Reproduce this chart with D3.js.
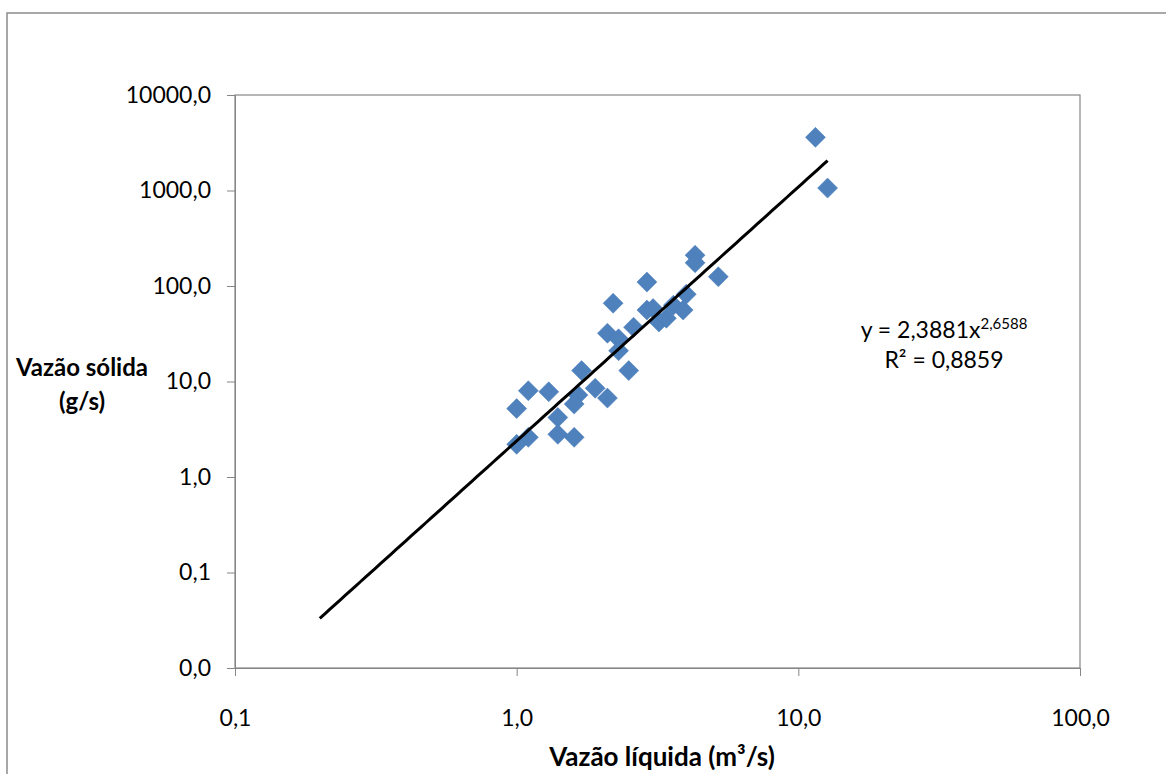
<!DOCTYPE html>
<html lang="pt">
<head>
  <meta charset="UTF-8" />
  <title>Vazão sólida x Vazão líquida</title>
  <script src="https://d3js.org/d3.v7.min.js"></script>
  <style>
    body { margin: 0; background: #fff; }
    svg { font-family: Lato, 'Open Sans', sans-serif; }
    .tick-label { font-size: 23px; fill: #000; }
    .axis-title { font-weight: bold; fill: #000; }
    .eq { font-size: 23px; fill: #000; }
  </style>
</head>
<body>
  <svg id="chart" width="1166" height="774"></svg>

  <script>
    // vazão líquida (m³/s)
    const qLiquida = [11.5, 12.7, 4.3, 4.3, 5.2, 2.9, 4.0, 2.2, 2.9, 3.05, 3.2, 3.4, 3.6, 3.9,
                      2.6, 2.1, 2.3, 2.3, 2.5, 1.7, 1.9, 2.1, 1.65, 1.6, 1.3, 1.1, 1.0, 1.4,
                      1.4, 1.6, 1.1, 1.0];
    // vazão sólida (g/s)
    const qSolida = [3600, 1060, 210, 175, 125, 110, 82, 66, 56, 58, 42, 46, 63, 56,
                     37, 32, 28, 21, 13, 13, 8.5, 6.7, 7.2, 5.8, 7.8, 8.0, 5.2, 4.2,
                     2.8, 2.6, 2.6, 2.2];

    // power trendline y = a x^b
    const trendA = 2.3881, trendB = 2.6588;
    const trendRange = [0.2, 12.7];
    const eqText = "y = 2,3881x", eqExp = "2,6588", r2Text = "R² = 0,8859";

    const xTicks = [0.1, 1, 10, 100];
    const yTicks = [0.01, 0.1, 1, 10, 100, 1000, 10000];

    const svg = d3.select("#chart");
    const plot = { left: 235, right: 1080, top: 95, bottom: 668 };

    const x = d3.scaleLog().domain([0.1, 100]).range([plot.left, plot.right]);
    const y = d3.scaleLog().domain([0.01, 10000]).range([plot.bottom, plot.top]);
    const fmt = v => v.toFixed(1).replace(".", ",");

    // outer chart frame
    svg.append("rect")
      .attr("x", 7).attr("y", 13)
      .attr("width", 1170).attr("height", 780)
      .attr("fill", "none").attr("stroke", "#8c8c8c").attr("stroke-width", 1.5);

    // plot area border
    svg.append("rect")
      .attr("x", plot.left).attr("y", plot.top)
      .attr("width", plot.right - plot.left).attr("height", plot.bottom - plot.top)
      .attr("fill", "none").attr("stroke", "#868686").attr("stroke-width", 1.2);

    // y axis
    const yAxis = svg.append("g")
      .attr("transform", `translate(${plot.left},0)`)
      .call(d3.axisLeft(y).tickValues(yTicks).tickFormat(fmt).tickSize(8).tickPadding(16));
    yAxis.select(".domain").attr("stroke", "#868686");
    yAxis.selectAll(".tick line").attr("stroke", "#868686");
    yAxis.selectAll(".tick text").attr("class", "tick-label");
    yAxis.attr("font-family", null).attr("font-size", null);

    // x axis
    const xAxis = svg.append("g")
      .attr("transform", `translate(0,${plot.bottom})`)
      .call(d3.axisBottom(x).tickValues(xTicks).tickFormat(fmt).tickSize(8).tickPadding(34));
    xAxis.select(".domain").attr("stroke", "#868686");
    xAxis.selectAll(".tick line").attr("stroke", "#868686");
    xAxis.selectAll(".tick text").attr("class", "tick-label");
    xAxis.attr("font-family", null).attr("font-size", null);

    // markers
    const pts = qLiquida.map((v, i) => [v, qSolida[i]]);
    const diamond = d3.symbol().type(d3.symbolSquare).size(200);
    svg.append("g")
      .selectAll("path")
      .data(pts)
      .join("path")
        .attr("d", diamond)
        .attr("transform", d => `translate(${x(d[0])},${y(d[1])}) rotate(45)`)
        .attr("fill", "#4f81bd")
        .attr("stroke", "#4a7ebb")
        .attr("stroke-width", 0.5);

    // trendline
    const tx = d3.range(0, 101).map(i => trendRange[0] * Math.pow(trendRange[1] / trendRange[0], i / 100));
    svg.append("path")
      .datum(tx)
      .attr("fill", "none")
      .attr("stroke", "#000")
      .attr("stroke-width", 3)
      .attr("d", d3.line().x(d => x(d)).y(d => y(trendA * Math.pow(d, trendB))));

    // equation label
    const eq = svg.append("text").attr("class", "eq")
      .attr("x", 944).attr("y", 338).attr("text-anchor", "middle");
    eq.append("tspan").text(eqText);
    eq.append("tspan").attr("dy", -9).attr("font-size", 15).text(eqExp);
    svg.append("text").attr("class", "eq")
      .attr("x", 944).attr("y", 368).attr("text-anchor", "middle").text(r2Text);

    // axis titles
    svg.append("text").attr("class", "axis-title")
      .attr("x", 662).attr("y", 766).attr("text-anchor", "middle")
      .attr("font-size", 26)
      .text("Vazão líquida (m³/s)");
    svg.append("text").attr("class", "axis-title")
      .attr("x", 82).attr("y", 376).attr("text-anchor", "middle")
      .attr("font-size", 24)
      .text("Vazão sólida");
    svg.append("text").attr("class", "axis-title")
      .attr("x", 82).attr("y", 410).attr("text-anchor", "middle")
      .attr("font-size", 24)
      .text("(g/s)");
  </script>
</body>
</html>
